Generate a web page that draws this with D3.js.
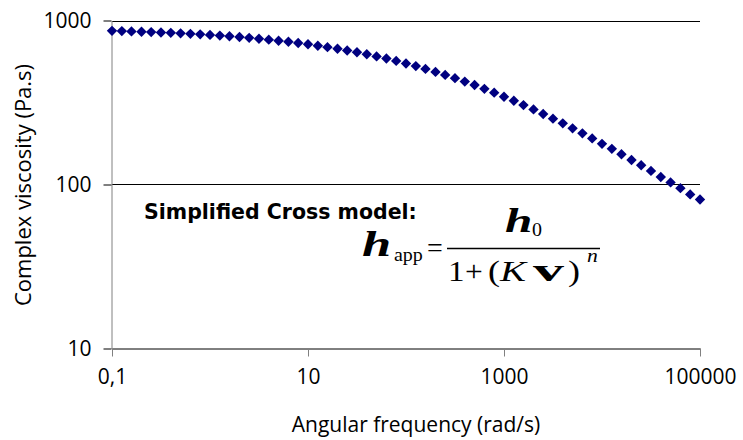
<!DOCTYPE html>
<html>
<head>
<meta charset="utf-8">
<script src="https://cdn.jsdelivr.net/npm/d3@7"></script>
<style>
  body { margin: 0; background: #fff; }
  svg { display: block; }
</style>
</head>
<body>
<svg id="chart" width="743" height="440"></svg>
<script>
// angular frequency (rad/s), 10 points per decade
var frequency = [
    0.1, 0.126, 0.158, 0.2, 0.251, 0.316, 0.398, 0.501, 0.631, 0.794,
    1, 1.26, 1.58, 2, 2.51, 3.16, 3.98, 5.01, 6.31, 7.94,
    10, 12.6, 15.8, 20, 25.1, 31.6, 39.8, 50.1, 63.1, 79.4,
    100, 126, 158, 200, 251, 316, 398, 501, 631, 794,
    1000, 1260, 1580, 2000, 2510, 3160, 3980, 5010, 6310, 7940,
    10000, 12600, 15800, 20000, 25100, 31600, 39800, 50100, 63100, 79400,
    100000
];
// complex viscosity (Pa.s)
var viscosity = [
    865, 862, 858, 854, 850, 845, 841, 835, 829, 823,
    817, 809, 801, 793, 784, 774, 764, 753, 742, 729,
    716, 702, 688, 672, 656, 640, 622, 604, 586, 567,
    547, 527, 507, 486, 466, 445, 424, 404, 383, 363,
    343, 324, 305, 287, 269, 252, 236, 220, 205, 191,
    177, 165, 153, 141, 131, 121, 111, 103, 95, 87,
    81
];
var xTicks = [0.1, 10, 1000, 100000],
    xTickLabels = ["0,1", "10", "1000", "100000"];
var yTicks = [10, 100, 1000],
    yTickLabels = ["10", "100", "1000"];

var svg = d3.select("#chart"),
    plotLeft = 112, plotRight = 700, plotTop = 20.5, plotBottom = 348.5;

var x = d3.scaleLog().domain([0.1, 100000]).range([plotLeft, plotRight]),
    y = d3.scaleLog().domain([10, 1000]).range([plotBottom, plotTop]);

// horizontal gridlines
svg.append("g")
    .selectAll("line")
    .data(yTicks.slice(1))
    .enter().append("line")
        .attr("x1", plotLeft)
        .attr("x2", plotRight)
        .attr("y1", function(d) { return Math.round(y(d)) + 0.5; })
        .attr("y2", function(d) { return Math.round(y(d)) + 0.5; })
        .attr("stroke", "#000");

// y axis
var yAxis = svg.append("g")
    .attr("transform", "translate(" + (plotLeft - 0.5) + ",0)")
    .call(d3.axisLeft(y).tickValues(yTicks).tickFormat(function(d, i) { return yTickLabels[i]; })
        .tickSize(8).tickPadding(12).tickSizeOuter(0));
yAxis.select(".domain").attr("stroke", "#808080");
yAxis.selectAll(".tick line").attr("stroke", "#000");
yAxis.selectAll("text")
    .attr("font-family", "Open Sans")
    .attr("font-size", 21)
    .attr("fill", "#000");

// x axis
var xAxis = svg.append("g")
    .attr("transform", "translate(0," + plotBottom + ")")
    .call(d3.axisBottom(x).tickValues(xTicks).tickFormat(function(d, i) { return xTickLabels[i]; })
        .tickSize(8).tickPadding(13).tickSizeOuter(0));
xAxis.select(".domain").attr("stroke", "#000");
xAxis.selectAll(".tick line").attr("stroke", "#808080");
xAxis.selectAll("text")
    .attr("font-family", "Open Sans")
    .attr("font-size", 21)
    .attr("fill", "#000");

// data points
svg.append("g")
    .selectAll("path")
    .data(frequency)
    .enter().append("path")
        .attr("d", d3.symbol().type(d3.symbolSquare).size(54))
        .attr("transform", function(d, i) {
            return "translate(" + x(d) + "," + y(viscosity[i]) + ") rotate(45)";
        })
        .attr("fill", "#000080");

// axis titles
svg.append("text")
    .attr("x", 416)
    .attr("y", 432)
    .attr("text-anchor", "middle")
    .attr("font-family", "Open Sans")
    .attr("font-size", 21)
    .text("Angular frequency (rad/s)");

svg.append("text")
    .attr("transform", "translate(31,185) rotate(-90)")
    .attr("text-anchor", "middle")
    .attr("font-family", "Open Sans")
    .attr("font-size", 22)
    .text("Complex viscosity (Pa.s)");

// model annotation
svg.append("text")
    .attr("x", 144)
    .attr("y", 219)
    .attr("font-family", "DejaVu Sans")
    .attr("font-weight", "bold")
    .attr("font-size", 20.5)
    .text("Simplified Cross model:");

// equation glyphs, stretched sideways like the pasted formula object
var eq = svg.append("g")
    .attr("font-family", "Liberation Serif")
    .attr("fill", "#000");

function glyph(str, gx, gy, size, sx, weight, style) {
    eq.append("text")
        .attr("transform", "translate(" + gx + "," + gy + ") scale(" + sx + ",1)")
        .attr("font-size", size)
        .attr("font-weight", weight || "normal")
        .attr("font-style", style || "normal")
        .text(str);
}

// eta_app =
glyph("h", 362, 256, 35, 1.5, "bold", "italic");
glyph("app", 394, 261, 19, 1.05);
glyph("=", 427, 257, 28, 1.0);

// numerator eta_0
glyph("h", 505, 232, 34, 1.45, "bold", "italic");
glyph("0", 532, 236, 19, 1.05);

eq.append("line")
    .attr("x1", 447)
    .attr("x2", 600)
    .attr("y1", 248.5)
    .attr("y2", 248.5)
    .attr("stroke", "#000")
    .attr("stroke-width", 1.3);

// denominator 1 + (K v)^n
glyph("1", 448, 281, 30, 1.1);
glyph("+", 465, 281, 30, 1.05);
glyph("(", 488, 281, 30, 1.2);
glyph("K", 500, 281, 30, 1.3, "normal", "italic");
glyph("v", 533, 281, 31, 2.0, "bold");
glyph(")", 568, 281, 30, 1.2);
glyph("n", 587, 262, 18, 1.2, "normal", "italic");
</script>
</body>
</html>
